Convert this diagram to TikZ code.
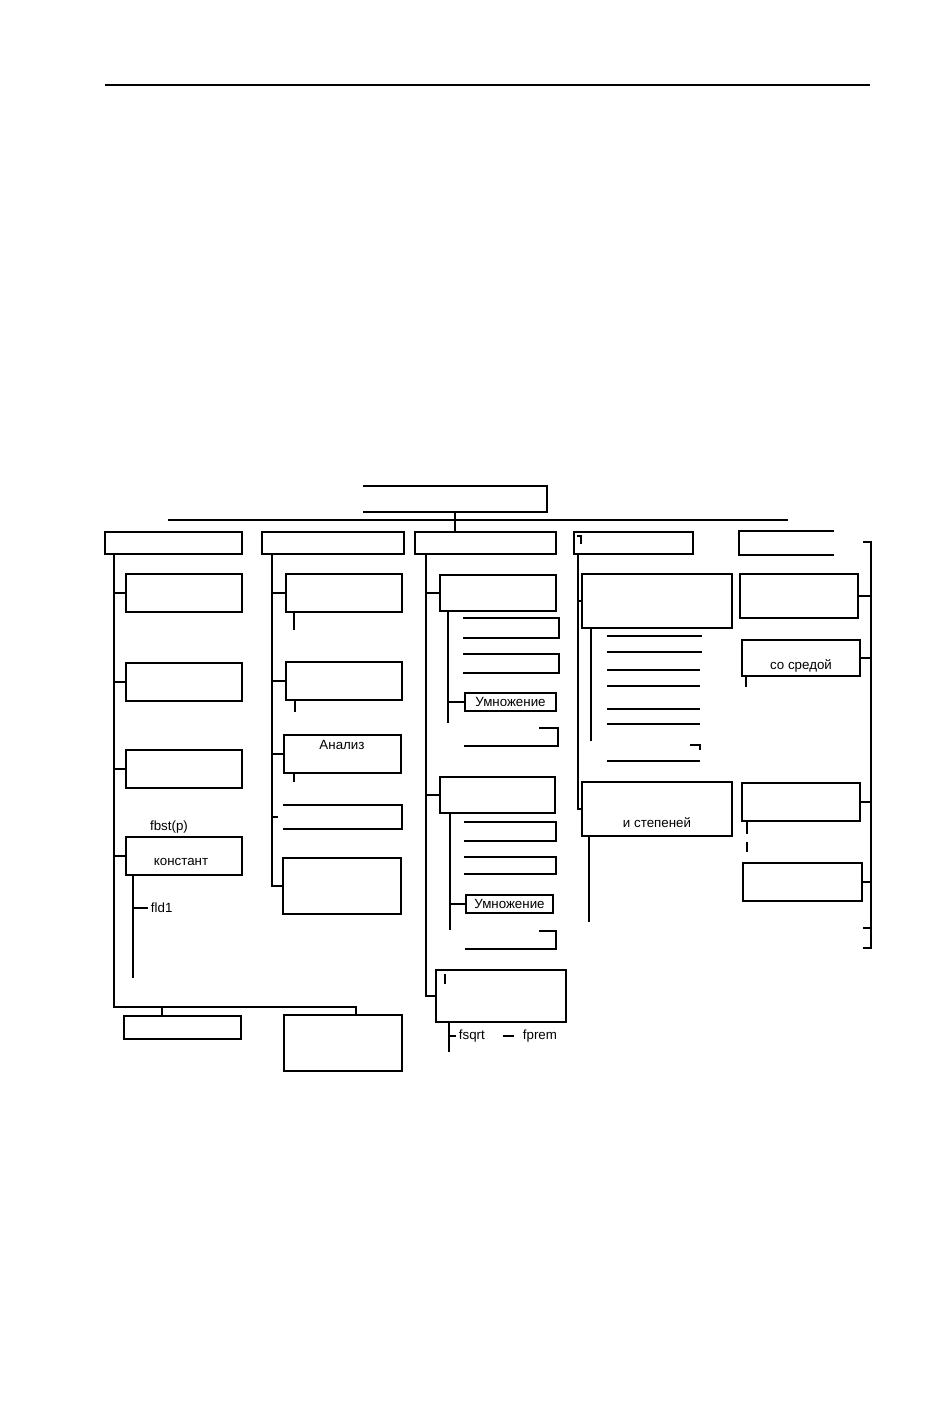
\documentclass[tikz,border=0pt]{standalone}
\usepackage{fontspec}
\setmainfont{Liberation Sans}
\usetikzlibrary{fit,calc}
\tikzset{
  bx/.style={draw, inner sep=0pt},
  obx/.style={inner sep=0pt},
  txt/.style={font=\fontsize{10}{12}\selectfont, inner sep=0pt},
  ltxt/.style={txt, anchor=west, inner xsep=1.5pt},
  fine/.style={line width=0.9pt},
}
\begin{document}
\begin{tikzpicture}[x=0.75pt, y=-0.75pt, line width=1.4pt]
\useasboundingbox[fill=white] (0,0) rectangle (946,1428);

% top rule
\coordinate (r1) at (105,85); \coordinate (r2) at (870,85);
\draw (r1) -- (r2);

% root box (open on the left)
\node[obx, fit={(364,487) (546,511)}] (T) {};
\draw (T.north west) -- (T.north east) -- (T.south east) -- (T.south west);
\coordinate (bus1) at (168,520); \coordinate (bus2) at (788,520);
\draw (bus1) -- (bus2);

% column headers
\node[bx, fit={(105,532) (242,554)}] (H1) {};
\node[bx, fit={(262,532) (404,554)}] (H2) {};
\node[bx, fit={(415,532) (556,554)}] (H3) {};
\node[bx, fit={(574,532) (693,554)}] (H4) {};
\node[obx, fit={(740,532) (833,554)}] (H5) {};
\draw (H5.north east) -- (H5.north west) -- (H5.south west) -- (H5.south east);
\draw (T.south) -- (T.south |- H3.north);
\draw[fine] ($(H4.north west)+(4,5)$) -- ++(4,0) -- ++(0,8);

% ===== column 1 =====
\node[bx, fit={(126,574) (242,612)}] (B1a) {};
\node[bx, fit={(126,663) (242,701)}] (B1b) {};
\node[bx, fit={(126,750) (242,788)}] (B1c) {};
\node[bx, fit={(126,837) (242,875)}] (B1d) {};
\node[txt] (fbst) at (169,827) {fbst(p)};
\node[txt] (konst) at (181,862) {констант};
\node[bx, fit={(124,1016) (241,1039)}] (L1) {};
\node[bx, fit={(284,1015) (402,1071)}] (L2) {};
\coordinate (c1a) at (114,554);
\coordinate (c1b) at (114,1007);
\coordinate (c1c) at (356,1007);
\coordinate (c1d) at (162,1007);
\draw (c1a) -- (c1b) -- (c1c) -- (c1c |- L2.north);
\draw (c1d) -- (c1d |- L1.north);
\foreach \b in {B1a,B1b,B1c,B1d} \draw (c1a |- \b.west) -- (\b.west);
\coordinate (s1a) at (133,875); \coordinate (s1b) at (133,978);
\draw (s1a) -- (s1b);
\node[ltxt] (fld) at (148,908) {fld1};
\draw (s1a |- fld.west) -- (fld.west);

% ===== column 2 =====
\node[bx, fit={(286,574) (402,612)}] (B2a) {};
\node[bx, fit={(286,662) (402,700)}] (B2b) {};
\node[bx, fit={(284,735) (401,773)}] (B2c) {};
\node[txt] (anal) at (342,745) {Анализ};
\node[obx, fit={(284,806) (401,828)}] (B2d) {};
\draw (B2d.north west) -- (B2d.north east) -- (B2d.south east) -- (B2d.south west);
\node[bx, fit={(283,858) (401,914)}] (B2e) {};
\coordinate (c2a) at (272,554);
\draw (c2a) |- (B2e.west);
\foreach \b in {B2a,B2b,B2c} \draw (c2a |- \b.west) -- (\b.west);
\draw (c2a |- B2d.west) -- ++(6,0);
\draw ($(B2a.south west)+(9,0)$) -- ++(0,17);
\draw ($(B2b.south west)+(10,0)$) -- ++(0,11);
\draw ($(B2c.south west)+(11,0)$) -- ++(0,8);

% ===== column 3 =====
\node[bx, fit={(440,575) (556,611)}] (B3a) {};
\node[obx, fit={(464,619) (558,637)}] (i1) {};
\node[obx, fit={(464,655) (558,672)}] (i2) {};
\node[bx, fit={(465,693) (556,711)}] (i3) {};
\node[txt] (i3t) at (i3.center) {Умножение};
\node[obx, fit={(465,729) (557,745)}] (i4) {};
\foreach \b in {i1,i2} \draw (\b.north west) -- (\b.north east) -- (\b.south east) -- (\b.south west);
\draw (i4.south west) -- (i4.south east) -- (i4.north east) -- ($(i4.north east)+(-19,0)$);
\coordinate (s3a) at (448,611); \coordinate (s3b) at (448,723);
\draw (s3a) -- (s3b);
\draw (s3a |- i3.west) -- (i3.west);

\node[bx, fit={(440,777) (555,813)}] (B3b) {};
\node[obx, fit={(465,823) (555,840)}] (j1) {};
\node[obx, fit={(465,858) (555,873)}] (j2) {};
\node[bx, fit={(466,895) (553,913)}] (j3) {};
\node[txt] (j3t) at (j3.center) {Умножение};
\node[obx, fit={(466,932) (555,948)}] (j4) {};
\foreach \b in {j1,j2} \draw (\b.north west) -- (\b.north east) -- (\b.south east) -- (\b.south west);
\draw (j4.south west) -- (j4.south east) -- (j4.north east) -- ($(j4.north east)+(-17,0)$);
\coordinate (s3c) at (450,813); \coordinate (s3d) at (450,930);
\draw (s3c) -- (s3d);
\draw (s3c |- j3.west) -- (j3.west);

\node[bx, fit={(436,970) (566,1022)}] (B3c) {};
\draw[fine] ($(B3c.north west)+(10,5)$) -- ++(0,10);
\coordinate (c3a) at (426,554);
\draw (c3a) |- (B3c.west);
\foreach \b in {B3a,B3b} \draw (c3a |- \b.west) -- (\b.west);
\coordinate (s3e) at (449,1022); \coordinate (s3f) at (449,1052);
\draw (s3e) -- (s3f);
\node[ltxt] (fsq) at (456,1036) {fsqrt};
\draw (s3e |- fsq.west) -- (fsq.west);
\node[ltxt] (fpr) at (520,1036) {fprem};
\coordinate (dsh) at ($(fpr.west)+(-17,0)$);
\draw (dsh) -- ($(fpr.west)+(-6,0)$);

% ===== column 4 =====
\node[bx, fit={(582,574) (732,628)}] (B4a) {};
\node[bx, fit={(582,782) (732,836)}] (B4b) {};
\node[txt] (step) at (657,823) {и степеней};
\coordinate (c4a) at (578,554);
\draw (c4a) |- (B4b.west);
\draw (c4a |- B4a.west) -- (B4a.west);
\coordinate (s4a) at (591,628); \coordinate (s4b) at (591,741);
\draw (s4a) -- (s4b);
\foreach \y/\r in {636/702,652/702,670/700,686/700,709/700,724/700,761/700}
  \draw (607,\y) -- (\r,\y);
\coordinate (k1) at (690,745);
\draw (k1) -- ++(10,0) -- ++(0,5);
\coordinate (s4c) at (589,836); \coordinate (s4d) at (589,922);
\draw (s4c) -- (s4d);

% ===== column 5 =====
\node[bx, fit={(740,574) (858,618)}] (B5a) {};
\node[bx, fit={(742,640) (860,676)}] (B5b) {};
\node[txt] (sred) at (801,666) {со средой};
\node[bx, fit={(742,783) (860,821)}] (B5c) {};
\node[bx, fit={(743,863) (862,901)}] (B5d) {};
\coordinate (c5a) at (871,542); \coordinate (c5b) at (871,948);
\draw ($(c5a)+(-8,0)$) -- (c5a) -- (c5b) -- ++(-8,0);
\coordinate (c5t) at (871,928);
\draw (c5t) -- ++(-8,0);
\foreach \b in {B5a,B5b,B5c,B5d} \draw (\b.east) -- (c5a |- \b.east);
\draw ($(B5b.south west)+(5,0)$) -- ++(0,10);
\draw ($(B5c.south west)+(6,0)$) -- ++(0,12);
\draw ($(B5c.south west)+(6,20)$) -- ++(0,10);
\end{tikzpicture}
\end{document}
